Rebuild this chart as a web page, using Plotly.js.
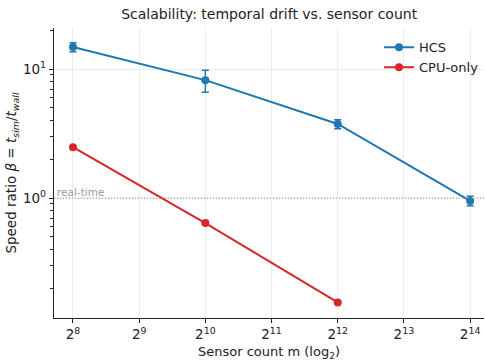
<!DOCTYPE html>
<html>
<head>
<meta charset="utf-8">
<script src="https://cdn.plot.ly/plotly-3.0.1.min.js"></script>
<style>html,body{margin:0;padding:0;background:#fff}#chart{width:485px;height:362px}</style>
</head>
<body>
<div id="chart"></div>
<script>
// Data
const sensorCounts = [256, 1024, 4096, 16384];
const hcsRatio = [14.8, 8.2, 3.75, 0.95];
const hcsErr = [1.2, 1.6, 0.3, 0.08];
const cpuCounts = [256, 1024, 4096];
const cpuRatio = [2.48, 0.64, 0.155];
const xTickVals = [256, 512, 1024, 2048, 4096, 8192, 16384];
const xTickText = ['2<sup>8</sup>','2<sup>9</sup>','2<sup>10</sup>','2<sup>11</sup>','2<sup>12</sup>','2<sup>13</sup>','2<sup>14</sup>'];
const yTickVals = [1, 10];
const yTickText = ['10<sup>0</sup>', '10<sup>1</sup>'];
const realTime = 1;

const blue = '#1f77b4', red = '#d62728';
const traces = [
  {x: sensorCounts, y: hcsRatio, name: 'HCS', type: 'scatter', mode: 'lines+markers',
   line: {color: blue, width: 2}, marker: {color: blue, size: 8},
   error_y: {type: 'data', array: hcsErr, visible: true, color: blue, thickness: 1.5, width: 3.5}},
  {x: cpuCounts, y: cpuRatio, name: 'CPU-only', type: 'scatter', mode: 'lines+markers',
   line: {color: red, width: 2}, marker: {color: red, size: 8},
   error_y: {type: 'data', array: [0,0,0], visible: true, color: red, thickness: 1.5, width: 3.5}}
];
const font = {family: 'DejaVu Sans, sans-serif', color: '#222'};
const layout = {
  width: 485, height: 362,
  margin: {l: 54, r: 1, t: 28, b: 44},
  paper_bgcolor: '#fff', plot_bgcolor: '#fff',
  font: font,
  title: {text: 'Scalability: temporal drift vs. sensor count', font: {size: 14, family: font.family, color: '#222'},
          x: 0.555, xanchor: 'center', y: 0.96, yanchor: 'middle', automargin: false},
  showlegend: true,
  legend: {x: 1.0, y: 0.985, xanchor: 'right', yanchor: 'top', bgcolor: 'rgba(255,255,255,0)',
           font: {size: 13, family: font.family, color: '#222'}, itemwidth: 30, tracegroupgap: 2},
  xaxis: {type: 'log', range: [Math.log10(2**7.713), Math.log10(2**14.21)], automargin: false,
          tickvals: xTickVals, ticktext: xTickText, tickfont: {size: 13.5},
          showgrid: true, gridcolor: '#ececec', gridwidth: 1,
          showline: true, linecolor: '#222', linewidth: 1.2, ticks: 'outside', ticklen: 4, tickcolor: '#222',
          zeroline: false, mirror: false,
          title: {text: 'Sensor count m (log<sub>2</sub>)', font: {size: 13}, standoff: 5}},
  yaxis: {type: 'log', range: [-0.93, 1.318], automargin: false,
          tickvals: yTickVals, ticktext: yTickText, tickfont: {size: 13.5},
          showgrid: true, gridcolor: '#ececec', gridwidth: 1,
          showline: true, linecolor: '#222', linewidth: 1.2, ticks: 'outside', ticklen: 4, tickcolor: '#222',
          minor: {ticks: 'outside', ticklen: 2.5, tickcolor: '#222', dtick: 'D1', showgrid: false},
          zeroline: false,
          title: {text: 'Speed ratio <i>β</i> = <i>t</i><sub><i>sim</i></sub>/<i>t</i><sub><i>wall</i></sub>', font: {size: 13.5}, standoff: 3}},
  shapes: [{type: 'line', xref: 'paper', x0: 0, x1: 1, yref: 'y', y0: realTime, y1: realTime,
            line: {color: '#888', width: 1, dash: '1px,2px'}}],
  annotations: [{xref: 'paper', x: 0.002, yref: 'y', y: Math.log10(realTime), text: 'real-time', showarrow: false,
                 xanchor: 'left', yanchor: 'bottom', yshift: -2, font: {size: 10.5, color: '#999'}}]
};
Plotly.newPlot('chart', traces, layout, {displayModeBar: false, staticPlot: true});
</script>
</body>
</html>
